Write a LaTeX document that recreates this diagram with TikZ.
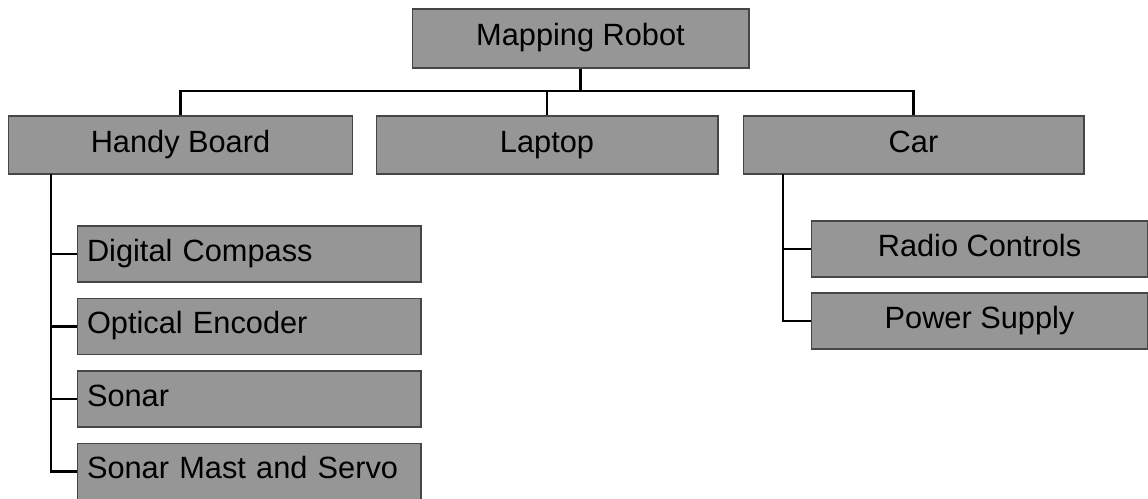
\documentclass[tikz,border=0pt]{standalone}
\usepackage{fontspec}
\setmainfont{Liberation Sans}
\definecolor{boxgray}{RGB}{150,150,150}
\definecolor{boxedge}{RGB}{70,70,70}
\begin{document}
\begin{tikzpicture}[x=0.02cm,y=-0.02cm,
  every node/.style={font=\fontsize{17.5}{20}\selectfont},
  part/.style={draw=boxedge,line width=0.6pt,fill=boxgray,inner sep=0pt,minimum height=1.16cm,text height=2.1ex,text depth=0.55ex},
  sub/.style={part,minimum height=1.12cm,minimum width=6.88cm,text width=6.48cm,inner xsep=0.2cm,align=left},
  carsub/.style={part,minimum height=1.12cm,minimum width=6.74cm},
  link/.style={line width=1.4pt,black}]
\useasboundingbox (0,0) rectangle (1148,499);
% top level
\node[part,minimum width=6.74cm,minimum height=1.18cm] (robot) at (580.5,38.5) {Mapping Robot};
% second level
\node[part,minimum width=6.9cm] (handy) at (180.5,145) {Handy Board};
\node[part,minimum width=6.84cm] (laptop) at (547,145) {Laptop};
\node[part,minimum width=6.82cm] (car) at (913.5,145) {Car};
% handy board parts
\node[sub] (compass) at (249,254) {Digital Compass};
\node[sub] (encoder) at (249,326.5) {Optical Encoder};
\node[sub] (sonar) at (249,399) {Sonar};
\node[sub] (mast) at (249,471.5) {Sonar Mast and Servo};
% car parts
\node[carsub] (radio) at (979.5,249) {Radio Controls};
\node[carsub] (power) at (979.5,321) {Power Supply};
% connectors
\coordinate (bus) at (580.5,91);
\coordinate (hbspine) at (51,174);
\coordinate (carspine) at (783,174);
\draw[link] (robot.south) -- (bus);
\draw[link] (handy.north) |- (bus) -| (car.north);
\draw[link] (laptop.north) -- (laptop.north |- bus);
\draw[link] (hbspine) |- (mast.west);
\draw[link] (hbspine |- compass.west) -- (compass.west);
\draw[link] (hbspine |- encoder.west) -- (encoder.west);
\draw[link] (hbspine |- sonar.west) -- (sonar.west);
\draw[link] (carspine) |- (power.west);
\draw[link] (carspine |- radio.west) -- (radio.west);
\end{tikzpicture}
\end{document}
